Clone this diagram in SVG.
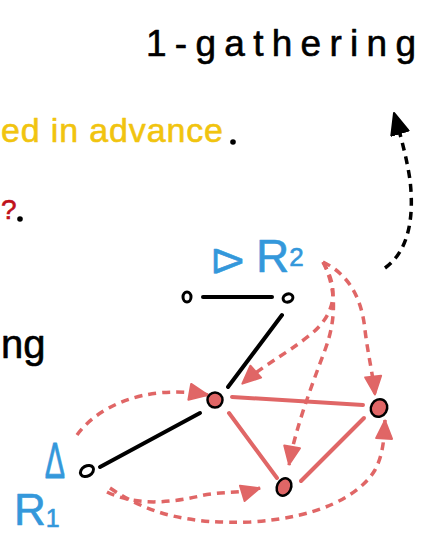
<svg xmlns="http://www.w3.org/2000/svg" width="426" height="535" viewBox="0 0 426 535">
<style>
  text { font-family: "Liberation Sans", "DejaVu Sans", sans-serif; stroke-width: 0.6; stroke-linejoin: round; }
  .blk { fill: #000; stroke: #000; }
  .yel { fill: #f1c40f; stroke: #f1c40f; }
  .dred { fill: #c0101a; stroke: #c0101a; }
  .blu { fill: #3498db; stroke: #3498db; }
  .edge-k { stroke: #000; stroke-width: 4; stroke-linecap: round; fill: none; }
  .edge-r { stroke: #e06666; stroke-width: 4; stroke-linecap: round; fill: none; }
  .dash-r { stroke: #e06666; stroke-width: 3.5; stroke-dasharray: 8 6; fill: none; marker-end: url(#ar); }
  .dash-k { stroke: #000; stroke-width: 3.5; stroke-dasharray: 8 6; fill: none; marker-end: url(#ak); }
  .node-k { fill: #fff; stroke: #000; stroke-width: 3; }
  .node-r { fill: #e06666; stroke: #000; stroke-width: 2.5; }
</style>
<defs>
  <marker id="ar" markerUnits="userSpaceOnUse" markerWidth="21" markerHeight="19" refX="20" refY="9.5" orient="auto">
    <path d="M1.5,1.5 L19.5,9.5 L1.5,17.5 Z" fill="#e06666" stroke="#e06666" stroke-linejoin="round" stroke-width="2"/>
  </marker>
  <marker id="ak" markerUnits="userSpaceOnUse" markerWidth="24" markerHeight="20" refX="22" refY="10" orient="auto">
    <path d="M1,1 L22,10 L1,19 Z" fill="#000" stroke="#000" stroke-linejoin="round" stroke-width="2"/>
  </marker>
</defs>

<!-- texts -->
<text class="blk" x="146" y="56" font-size="37" textLength="270" lengthAdjust="spacing">1-gathering</text>
<text class="yel" x="1" y="142" font-size="34" textLength="222" lengthAdjust="spacing">ed in advance</text>
<circle cx="233" cy="142" r="2.8" fill="#000"/>
<text class="dred" x="1" y="219" font-size="28">?</text>
<circle cx="20" cy="219" r="2.8" fill="#000"/>
<text class="blk" x="1" y="358" font-size="40">ng</text>

<g id="label-R1">
  <text class="blu" font-size="38" text-anchor="middle" transform="translate(55,478) scale(0.8,1.3)">Δ</text>
  <text class="blu" x="14" y="525" font-size="44">R<tspan font-size="25" dy="2">1</tspan></text>
</g>
<g id="label-R2">
  <text class="blu" font-size="40" text-anchor="middle" transform="translate(228,261) rotate(90)" y="14">Δ</text>
  <text class="blu" x="256" y="272" font-size="46">R<tspan font-size="26" dy="-6">2</tspan></text>
</g>

<!-- connectors -->
<g id="connectors">
  <line class="edge-k" x1="203" y1="297" x2="272" y2="297"/>
  <line class="edge-k" x1="282" y1="315" x2="228" y2="387"/>
  <line class="edge-k" x1="100" y1="467" x2="200" y2="413"/>
  <line class="edge-r" x1="232" y1="397" x2="363" y2="405"/>
  <line class="edge-r" x1="229" y1="413" x2="277" y2="478"/>
  <line class="edge-r" x1="301" y1="481" x2="364" y2="418"/>

  <path class="dash-r" d="M77,435 C95,410 140,383 208,395"/>
  <path class="dash-r" d="M107,492 C135,506 170,503 200,496 C220,491 240,494 260,488"/>
  <path class="dash-r" d="M110,488 C150,515 190,524 250,522 C320,518 360,495 375,470 C383,455 384,440 385,420"/>
  <path class="dash-r" d="M323,262 C340,290 335,315 310,335 C285,355 262,366 242,384"/>
  <path class="dash-r" d="M323,262 C335,285 338,315 325,350 C310,390 295,430 289,465"/>
  <path class="dash-r" d="M323,262 C350,275 362,300 365,330 C368,355 373,375 375,395"/>
  <path class="dash-k" d="M385,268 C410,250 414,215 410,180 C407,160 402,140 394,113"/>
</g>

<!-- nodes -->
<g id="node-a"><ellipse class="node-k" cx="187" cy="297" rx="4" ry="5"/></g>
<g id="node-b"><ellipse class="node-k" cx="288" cy="298" rx="5" ry="4" transform="rotate(-20 288 298)"/></g>
<g id="node-c"><ellipse class="node-k" cx="87" cy="471" rx="7" ry="5" transform="rotate(-30 87 471)"/></g>
<g id="node-d"><circle class="node-r" cx="215" cy="400" r="7.5"/></g>
<g id="node-e"><ellipse class="node-r" cx="379" cy="408" rx="8" ry="9" stroke-width="3" transform="rotate(30 379 408)"/></g>
<g id="node-f"><ellipse class="node-r" cx="284" cy="487" rx="7" ry="9" transform="rotate(25 284 487)"/></g>
</svg>
